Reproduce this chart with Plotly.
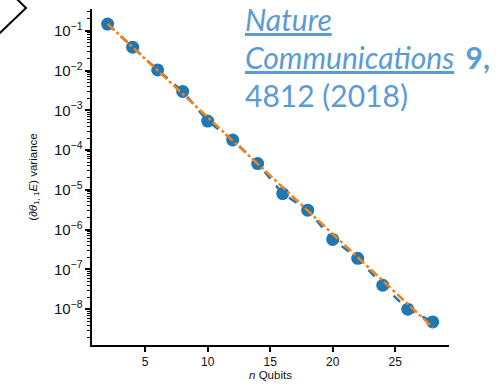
import plotly.graph_objects as go

# Sampled gradient variance vs. number of qubits
n_qubits = [2, 4, 6, 8, 10, 12, 14, 16, 18, 20, 22, 24, 26, 28]
variance = [0.148, 0.039, 0.0104, 0.0030, 5.4e-4, 1.8e-4, 4.6e-5,
            8.1e-6, 3.1e-6, 5.7e-7, 1.9e-7, 4.0e-8, 1.0e-8, 4.8e-9]

# Exponential fit (straight line on the log scale), endpoints
fit_n = [2, 28]
fit_var = [0.15, 3.5e-9]

BLUE = "#1f77b4"
ORANGE = "#ff7f0e"
CITE = "#5b9bd5"

fig = go.Figure()
fig.add_trace(go.Scatter(
    x=n_qubits, y=variance, mode="lines+markers",
    line=dict(color=BLUE, width=2.5, dash="dash"),
    marker=dict(color=BLUE, size=13),
    showlegend=False,
))
fig.add_trace(go.Scatter(
    x=fit_n, y=fit_var, mode="lines",
    line=dict(color=ORANGE, width=2.5, dash="dashdot"),
    showlegend=False,
))

L, R, T, B = 92, 51, 9, 39
W, H = 500, 388
pw, ph = W - L - R, H - T - B

def px(x):
    return (x - L) / pw

def py(y):
    return (H - B - y) / ph

tick_font = dict(family="Liberation Sans, Arial, sans-serif", size=12, color="#111")
title_font = dict(family="Liberation Sans, Arial, sans-serif", size=11.5, color="#111")

fig.update_layout(
    width=W, height=H,
    margin=dict(l=L, r=R, t=T, b=B),
    paper_bgcolor="white", plot_bgcolor="white",
    font=tick_font,
    xaxis=dict(
        range=[0.75, 29.3], tick0=0, dtick=5,
        showline=True, linecolor="black", linewidth=2,
        ticks="outside", ticklen=5, tickwidth=1.5, tickcolor="black",
        tickfont=tick_font,
        showgrid=False, zeroline=False,
        title=dict(text="<i>n</i> Qubits", font=title_font, standoff=2),
    ),
    yaxis=dict(
        type="log", range=[-8.9, -0.45], dtick=1,
        exponentformat="power", showexponent="all",
        showline=True, linecolor="black", linewidth=2,
        ticks="outside", ticklen=5, tickwidth=1.5, tickcolor="black",
        tickfont=tick_font,
        minor=dict(ticks="outside", ticklen=3, tickwidth=1, tickcolor="black",
                   dtick="D1", showgrid=False),
        showgrid=False, zeroline=False,
        title=dict(text="(∂<i>θ</i><sub>1, 1</sub><i>E</i>) variance",
                   font=title_font, standoff=14),
    ),
)

cite_font = dict(family="Lato, Open Sans, sans-serif", size=30, color=CITE)
cite_lines = [
    ("<i><u>Nature</u></i>", 19),
    ("<i><u>Communications</u></i>\u00a0\u2009<b>9,</b>", 58),
    ("4812 (2018)", 96),
]
for txt, yc in cite_lines:
    fig.add_annotation(
        xref="paper", yref="paper", x=px(243), y=py(yc),
        xanchor="left", yanchor="middle", showarrow=False,
        text=txt, font=cite_font,
    )

# Chevron mark in the top-left corner
fig.add_shape(
    type="path", xref="paper", yref="paper",
    path=f"M {px(-4)} {py(37)} L {px(26)} {py(8)} L {px(17)} {py(-1)}",
    line=dict(color="black", width=2),
)

fig.write_html("out.html")
